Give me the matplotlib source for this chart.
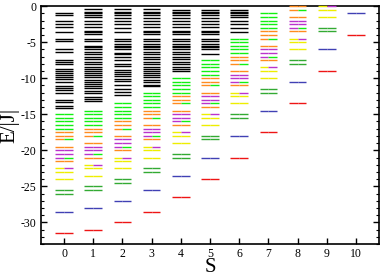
import numpy as np
import matplotlib
matplotlib.use("Agg")
import matplotlib.pyplot as plt
from matplotlib.ticker import MultipleLocator

plt.rcParams['font.family'] = ['Liberation Serif', 'DejaVu Serif']
plt.rcParams['axes.unicode_minus'] = False

#---------------------------------------------------------- level data

S_values = list(range(11))

# black levels, one list per S (S = 0 .. 6)
black_S0 = [-1.0, -1.3, -2.0, -2.5, -2.9, -3.6, -4.6, -4.9, -6.0, -6.3, -7.5, -7.8,
            -8.1, -8.7, -9.0, -9.3, -9.5, -9.9, -10.1, -10.5, -11.1, -11.4, -11.7,
            -12.0, -13.0, -13.3, -13.9, -14.1]
black_S1 = [-0.45, -0.75, -1.0, -1.3, -1.5, -2.0, -2.5, -2.9, -3.4, -3.6, -3.9, -4.6,
            -4.9, -5.5, -5.7, -6.0, -6.3, -6.6, -7.1, -7.4, -7.7, -8.1, -8.4, -8.7,
            -9.0, -9.3, -9.6, -9.9, -10.2, -10.5, -10.8, -11.1, -11.4, -11.8, -12.0,
            -12.6, -12.9, -13.2]
black_S2 = [-0.45, -0.75, -1.0, -1.3, -1.6, -2.0, -2.5, -3.0, -3.6, -4.6, -4.9, -5.2,
            -5.5, -5.7, -6.0, -6.5, -6.7, -7.1, -7.5, -8.0, -8.3, -8.9, -9.2, -9.4,
            -9.7, -10.1, -10.4, -11.0, -11.5, -11.9, -12.3]
black_S3 = [-0.45, -0.75, -1.0, -1.3, -1.6, -2.0, -2.5, -2.9, -3.4, -3.6, -3.9, -4.6,
            -4.9, -5.2, -5.5, -5.7, -6.0, -6.3, -6.6, -7.1, -7.4, -7.7, -8.1, -8.4,
            -8.7, -9.0, -9.3, -9.6, -9.9, -10.2, -10.5, -10.9, -11.1]
black_S4 = [-0.5, -0.75, -1.0, -1.3, -1.6, -2.0, -2.5, -2.9, -3.4, -3.6, -3.9, -4.6,
            -4.9, -5.2, -5.5, -5.7, -6.0, -6.3, -6.6, -7.1, -7.4, -7.7, -8.0, -8.4,
            -8.7, -9.0]
black_S5 = [-0.5, -0.75, -1.0, -1.3, -1.6, -2.0, -2.5, -2.9, -3.4, -3.6, -3.9, -4.6,
            -4.9, -5.2, -5.5, -5.7, -6.0, -6.6]
black_S6 = [-0.5, -0.8, -1.0, -1.3, -1.5, -2.0, -2.5, -3.1, -3.6]
black_levels = [black_S0, black_S1, black_S2, black_S3, black_S4, black_S5, black_S6]

# coloured bands, energy for S = 0, 1, 2, ... (levels above 0 are off the plot)
green1_E = [-15.0, -14.5, -13.5, -12.0, -10.0, -7.5, -4.5, -1.0]
green2_E = [-15.5, -15.0, -14.0, -12.5, -10.5, -8.0, -5.0, -1.5]
green3_E = [-16.0, -15.5, -14.5, -13.0, -11.0, -8.5, -5.5, -2.0]
green4_E = [-16.5, -16.0, -15.0, -13.5, -11.5, -9.0, -6.0, -2.5]
green5_E = [-17.0, -16.5, -15.5, -14.0, -12.0, -9.5, -6.5, -3.0]
orange1_E = [-17.5, -17.0, -16.0, -14.5, -12.5, -10.0, -7.0, -3.5]
orange2_E = [-18.0, -17.5, -16.5, -15.0, -13.0, -10.5, -7.5, -4.0, 0.0]
orgreen_E = [-18.5, -18.0, -17.0, -15.5, -13.5, -11.0, -8.0, -4.5, -0.5]
orange3_E = [-19.5, -19.0, -18.0, -16.5, -14.5, -12.0, -9.0, -5.5, -1.5]
purple1_E = [-20.0, -19.5, -18.5, -17.0, -15.0, -12.5, -9.5, -6.0, -2.0]
purple2_E = [-20.5, -20.0, -19.0, -17.5, -15.5, -13.0, -10.0, -6.5, -2.5]
purgreen_E = [-21.0, -20.5, -19.5, -18.0, -16.0, -13.5, -10.5, -7.0, -3.0]
orange4_E = [-21.5, -21.0, -20.0, -18.5, -16.5, -14.0, -11.0, -7.5, -3.5]
yelpur_E = [-22.5, -22.0, -21.0, -19.5, -17.5, -15.0, -12.0, -8.5, -4.5, 0.0]
yellow1_E = [-23.0, -22.5, -21.5, -20.0, -18.0, -15.5, -12.5, -9.0, -5.0, -0.5]
yellow2_E = [-24.0, -23.5, -22.5, -21.0, -19.0, -16.5, -13.5, -10.0, -6.0, -1.5]
dkgreen1_E = [-25.5, -25.0, -24.0, -22.5, -20.5, -18.0, -15.0, -11.5, -7.5, -3.0]
dkgreen2_E = [-26.0, -25.5, -24.5, -23.0, -21.0, -18.5, -15.5, -12.0, -8.0, -3.5]
blue_E = [-28.5, -28.0, -27.0, -25.5, -23.5, -21.0, -18.0, -14.5, -10.5, -6.0, -1.0]
red_E = [-31.5, -31.0, -30.0, -28.5, -26.5, -24.0, -21.0, -17.5, -13.5, -9.0, -4.0]

#---------------------------------------------------------- colours

c_green  = '#11f011'
c_orange = '#ff8c1f'
c_purple = '#bb33cc'
c_yellow = '#eeee00'
c_dkgreen = '#33aa33'
c_blue   = '#4040b4'
c_red    = '#ee1515'

# (energies, left-half colour, right-half colour)
bands = [
    (green1_E, c_green, c_green), (green2_E, c_green, c_green),
    (green3_E, c_green, c_green), (green4_E, c_green, c_green),
    (green5_E, c_green, c_green),
    (orange1_E, c_orange, c_orange), (orange2_E, c_orange, c_orange),
    (orgreen_E, c_orange, c_green), (orange3_E, c_orange, c_orange),
    (purple1_E, c_purple, c_purple), (purple2_E, c_purple, c_purple),
    (purgreen_E, c_purple, c_green), (orange4_E, c_orange, c_orange),
    (yelpur_E, c_yellow, c_purple), (yellow1_E, c_yellow, c_yellow),
    (yellow2_E, c_yellow, c_yellow),
    (dkgreen1_E, c_dkgreen, c_dkgreen), (dkgreen2_E, c_dkgreen, c_dkgreen),
    (blue_E, c_blue, c_blue), (red_E, c_red, c_red),
]

#---------------------------------------------------------- plotting
half = 0.3
lw = 1.0

fig = plt.figure(figsize=(3.82, 2.77), dpi=100)
ax = fig.add_axes([0.1065, 0.119, 0.8865, 0.859])

for s, levels in zip(S_values, black_levels):
    ax.hlines(levels, s - half, s + half, colors='black', lw=lw, zorder=3)

for energies, cl, cr in bands:
    for s, e in zip(S_values, energies):
        ax.hlines(e, s - half, s, colors=cl, lw=lw, zorder=3, clip_on=False)
        ax.hlines(e, s, s + half, colors=cr, lw=lw, zorder=3, clip_on=False)

ax.set_xlim(-0.8, 10.8)
ax.set_ylim(-33, 0)
ax.set_xticks(S_values)
ax.yaxis.set_major_locator(MultipleLocator(5))
ax.yaxis.set_minor_locator(MultipleLocator(1))
ax.tick_params(axis='x', which='both', direction='in', length=4, width=1.0,
               top=False, labelsize=8.5, pad=2.5)
ax.tick_params(axis='y', which='major', direction='in', length=4.5, width=1.0,
               left=True, right=True, labelsize=8.5, pad=3)
ax.tick_params(axis='y', which='minor', direction='in', length=2.5, width=0.8,
               left=True, right=True)
for sp in ax.spines.values():
    sp.set_linewidth(1.2)

ax.set_xlabel("S", fontsize=15, labelpad=-1)
ax.set_ylabel("E/|J|", fontsize=15, labelpad=1)

fig.savefig("out.png", dpi=100)
